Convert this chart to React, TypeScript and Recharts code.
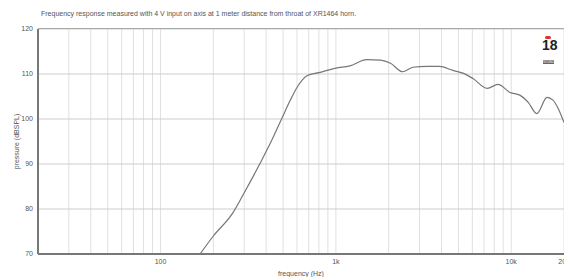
import React from 'react';
import {
  LineChart,
  Line,
  XAxis,
  YAxis,
  CartesianGrid,
  Label,
} from 'recharts';

// frequency (Hz) and SPL (dB)
const freqs = [
  168, 200, 259, 300, 369, 430, 490, 550, 600, 685, 800, 1000, 1200, 1500, 1800, 2050,
  2400, 2750, 3300, 3900, 4650, 5300, 6050, 7300, 8400, 9850, 11200, 12500, 14000, 16000,
  17300, 18500, 20000,
];
const spl = [
  70, 74, 79.2, 83.6, 90.1, 95.2, 100, 104.2, 107, 109.6, 110.3, 111.3, 111.8, 113.2, 113.1,
  112.4, 110.5, 111.5, 111.7, 111.7, 110.8, 110.2, 109, 106.8, 107.7, 105.9, 105.3, 103.7,
  101.2, 104.8, 104.2, 102.4, 99.2,
];

const gridFreqs = [
  20, 30, 40, 50, 60, 70, 80, 90, 100, 200, 300, 400, 500, 600, 700, 800, 900, 1000, 2000,
  3000, 4000, 5000, 6000, 7000, 8000, 9000, 10000, 20000,
];
const freqLabels: Record<number, string> = { 100: '100', 1000: '1k', 10000: '10k', 20000: '20k' };
const splTicks = [70, 80, 90, 100, 110, 120];

const title =
  'Frequency response measured with 4 V input on axis at 1 meter distance from throat of XR1464 horn.';

const data = freqs.map((f, i) => ({ f, db: spl[i] }));

const font = '"Liberation Sans", Arial, sans-serif';
const tickStyle = { fill: '#555', fontSize: 7, fontFamily: font };

export default function App() {
  return (
    <div style={{ position: 'fixed', left: 0, top: 0, width: 564, height: 277, background: '#fff', overflow: 'hidden' }}>
      <div
        style={{
          position: 'absolute',
          left: 41,
          top: 10,
          fontSize: 7,
          fontFamily: font,
          color: '#555',
          whiteSpace: 'nowrap',
        }}
      >
        {title}
      </div>
      <LineChart width={564} height={277} data={data} margin={{ top: 29, right: 0, bottom: 0, left: 0 }}>
        <CartesianGrid horizontal={false} stroke="#e0e0e0" strokeWidth={1} />
        <CartesianGrid vertical={false} stroke="#cdcdcd" strokeWidth={1} />
        <XAxis
          dataKey="f"
          type="number"
          scale="log"
          domain={[20, 20000]}
          ticks={gridFreqs}
          interval={0}
          tickFormatter={(v: number) => freqLabels[v] ?? ''}
          tick={tickStyle}
          tickLine={false}
          tickSize={3}
          tickMargin={2}
          height={23}
          axisLine={{ stroke: '#777', strokeWidth: 2 }}
          allowDataOverflow
        >
          <Label value="frequency (Hz)" position="insideBottom" offset={1} style={{ ...tickStyle }} />
        </XAxis>
        <YAxis
          type="number"
          domain={[70, 120]}
          ticks={splTicks}
          interval={0}
          tick={tickStyle}
          tickLine={false}
          tickSize={3}
          tickMargin={2}
          width={38}
          axisLine={{ stroke: '#777', strokeWidth: 2 }}
          allowDataOverflow
        >
          <Label value="pressure (dBSPL)" position="center" angle={-90} dx={-2} style={{ ...tickStyle }} />
        </YAxis>
        <Line
          type="monotone"
          dataKey="db"
          stroke="#777"
          strokeWidth={1.2}
          dot={false}
          isAnimationActive={false}
        />
      </LineChart>
      <div style={{ position: 'absolute', left: 38, top: 28, width: 526, height: 1, background: '#aaa' }} />
      <div style={{ position: 'absolute', left: 545, top: 36, width: 6, height: 3, background: '#d33', borderRadius: 2 }} />
      <div
        style={{
          position: 'absolute',
          left: 542,
          top: 38,
          width: 13,
          textAlign: 'center',
          fontSize: 14,
          fontWeight: 'bold',
          fontFamily: '"Liberation Sans Narrow", "Liberation Sans", sans-serif',
          color: '#222',
          lineHeight: '15px',
        }}
      >
        18
      </div>
      <div
        style={{
          position: 'absolute',
          left: 543,
          top: 60,
          width: 11,
          height: 4,
          background: '#666',
          color: '#fff',
          fontSize: 3,
          lineHeight: '4px',
          textAlign: 'center',
          fontFamily: font,
        }}
      >
        SOUND
      </div>
    </div>
  );
}
